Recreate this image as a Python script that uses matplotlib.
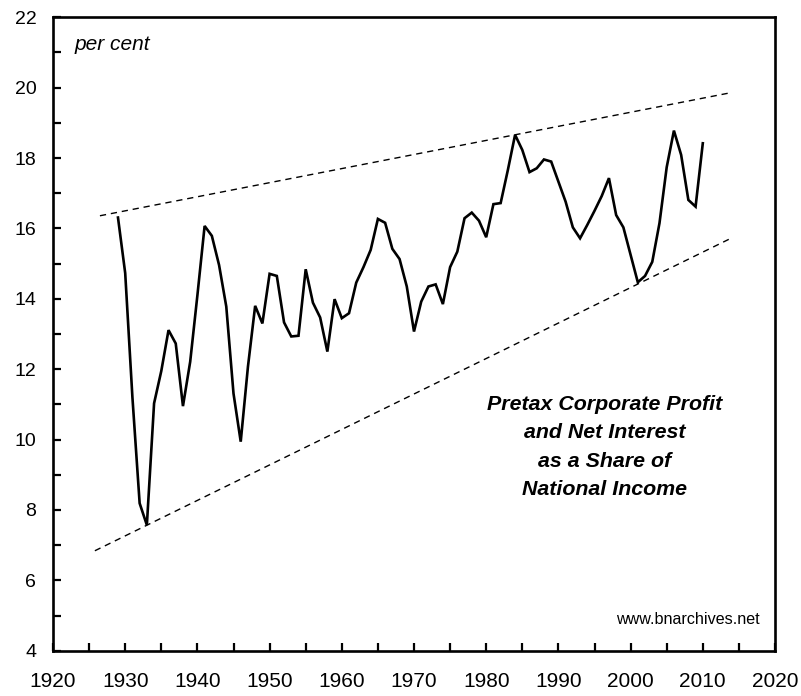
import matplotlib
matplotlib.use("Agg")
import matplotlib.pyplot as plt
import numpy as np

plt.rcParams['font.family'] = ['Liberation Sans', 'DejaVu Sans']

years = list(range(1929, 2011))
share = [16.31, 14.73, 11.2, 8.19, 7.57, 11.03, 11.95, 13.11, 12.73, 10.95,
         12.21, 14.1, 16.07, 15.79, 14.96, 13.78, 11.31, 9.94, 12.07, 13.8,
         13.3, 14.71, 14.65, 13.33, 12.93, 12.95, 14.84, 13.89, 13.47, 12.5,
         13.99, 13.45, 13.59, 14.46, 14.9, 15.39, 16.27, 16.16, 15.42, 15.13,
         14.35, 13.07, 13.92, 14.35, 14.41, 13.85, 14.9, 15.34, 16.29, 16.45,
         16.22, 15.75, 16.69, 16.72, 17.66, 18.66, 18.23, 17.6, 17.71, 17.96,
         17.9, 17.33, 16.76, 16.03, 15.72, 16.1, 16.5, 16.92, 17.43, 16.38,
         16.03, 15.25, 14.47, 14.65, 15.05, 16.15, 17.74, 18.78, 18.09, 16.81,
         16.62, 18.42]

upper_x = [1926.5, 2013.7]
upper_y = [16.36, 19.85]
lower_x = [1925.8, 2013.7]
lower_y = [6.84, 15.70]

xticks_major = list(range(1920, 2021, 10))
xticks_minor = list(range(1925, 2020, 10))
yticks_major = list(range(4, 23, 2))
yticks_minor = list(range(5, 22, 2))

fig = plt.figure(figsize=(8.01, 6.96), dpi=100)
ax = fig.add_axes([53/801, 1 - 650.7/696, (775-53)/801, (650.7-17.3)/696])

ax.plot(years, share, color='black', lw=1.9, solid_joinstyle='miter')
ax.plot(upper_x, upper_y, color='black', lw=1.0, dashes=(4.5, 3.5))
ax.plot(lower_x, lower_y, color='black', lw=1.0, dashes=(4.5, 3.5))

ax.set_xlim(1920, 2020)
ax.set_ylim(4, 22)
ax.set_xticks(xticks_major)
ax.set_xticks(xticks_minor, minor=True)
ax.set_yticks(yticks_major)
ax.set_yticks(yticks_minor, minor=True)
ax.tick_params(axis='both', which='both', direction='in', width=1.6, color='black')
ax.tick_params(axis='both', which='major', length=5.5)
ax.tick_params(axis='both', which='minor', length=5.5)
ax.tick_params(axis='y', which='major', labelsize=14, pad=12)
ax.tick_params(axis='x', which='major', labelsize=15, pad=15)
for s in ax.spines.values():
    s.set_linewidth(1.9)

def px(x, y):
    return (x / 801, 1 - y / 696)

ax.text(*px(75, 45), 'per cent', transform=fig.transFigure, fontsize=15,
        style='italic', ha='left', va='center')
ax.text(*px(604.5, 447), 'Pretax Corporate Profit\nand Net Interest\nas a Share of\nNational Income',
        transform=fig.transFigure, fontsize=15.4, style='italic', fontweight='bold',
        ha='center', va='center', linespacing=1.62)
ax.text(*px(760, 620), 'www.bnarchives.net', transform=fig.transFigure,
        fontsize=11.6, ha='right', va='center')

fig.savefig('out.png', dpi=100)
